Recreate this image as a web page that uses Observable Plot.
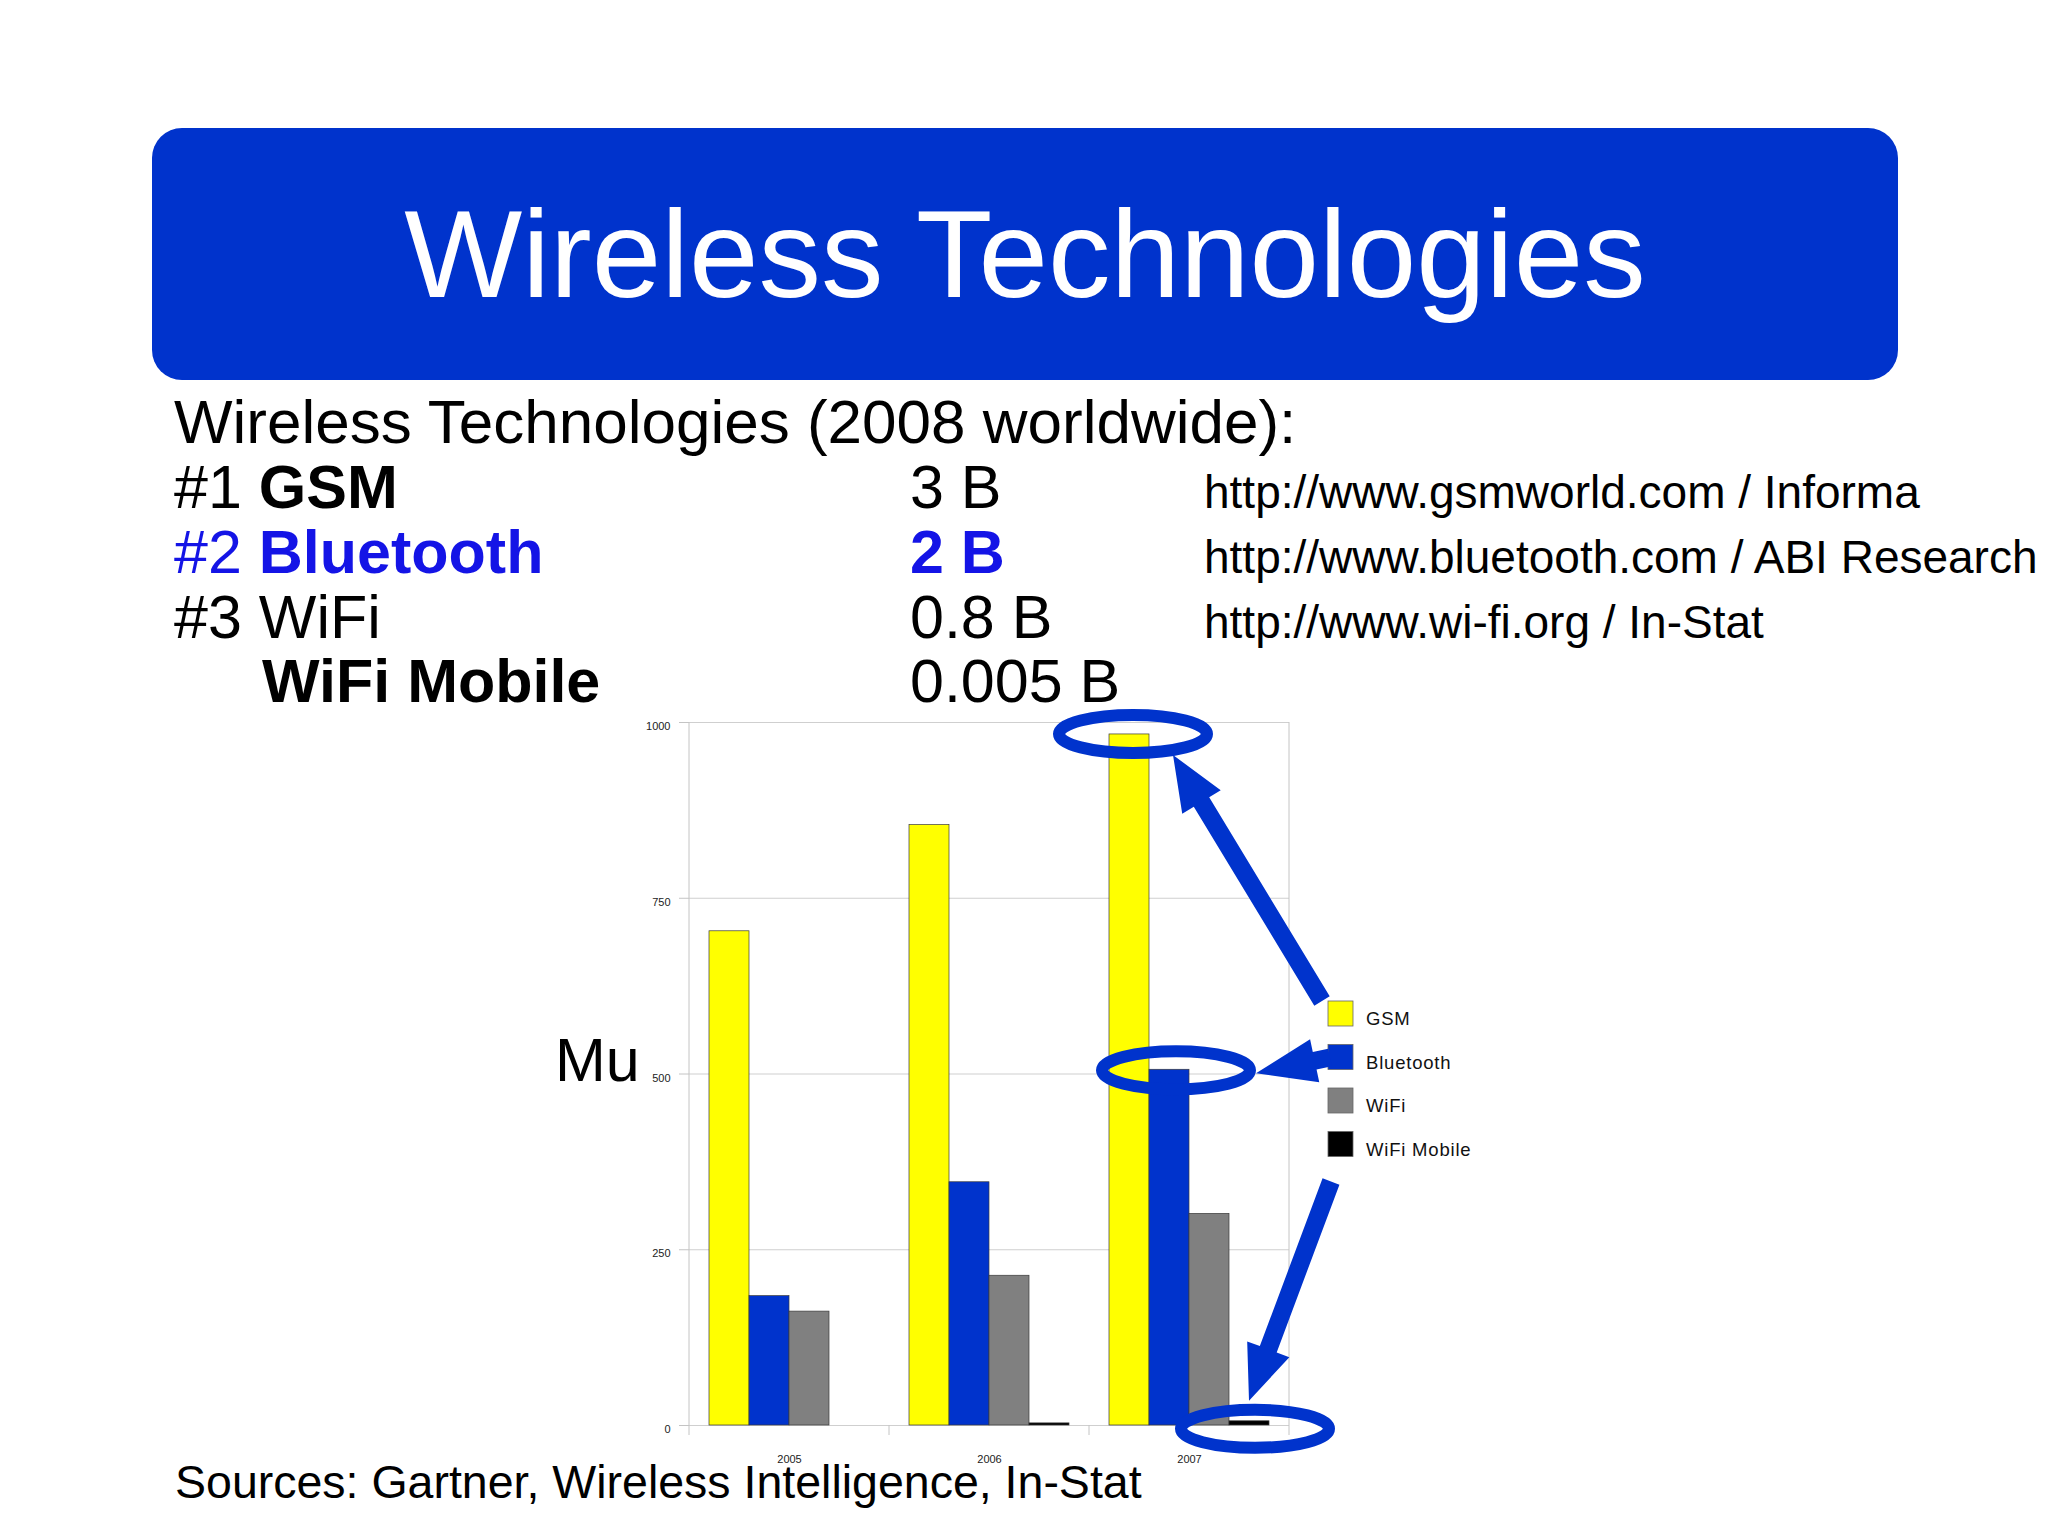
<!DOCTYPE html>
<html>
<head>
<meta charset="utf-8">
<script src="https://cdn.jsdelivr.net/npm/d3@7"></script>
<script src="https://cdn.jsdelivr.net/npm/@observablehq/plot@0.6"></script>
<style>
  html, body { margin: 0; padding: 0; background: #ffffff; }
  body { width: 2048px; height: 1535px; position: relative; overflow: hidden;
         font-family: "Liberation Sans", Arial, sans-serif; }
  svg.layer { position: absolute; left: 0; top: 0; }
  #chart { position: absolute; left: 600px; top: 700px; }
</style>
</head>
<body>
<div id="chart"></div>
<script>
// ---------- data ----------
const years = ["2005", "2006", "2007"];
const series = ["GSM", "Bluetooth", "WiFi", "WiFi Mobile"];
const gsm = [703, 854, 983];
const bluetooth = [184, 346, 506];
const wifi = [162, 213, 301];
const wifiMobile = [null, 3, 6];
const yTicks = [0, 250, 500, 750, 1000];
const colors = ["#ffff00", "#0033cc", "#808080", "#000000"];

// ---------- slide text ----------
const titleText = "Wireless Technologies";
const subtitleText = "Wireless Technologies (2008 worldwide):";
const ranks = ["#1 ", "#2 ", "#3 ", ""];
const techs = ["GSM", "Bluetooth", "WiFi", "WiFi Mobile"];
const techBold = [true, true, false, true];
const counts = ["3 B", "2 B", "0.8 B", "0.005 B"];
const countBold = [false, true, false, false];
const rowColors = ["#000000", "#1414e6", "#000000", "#000000"];
const urls = ["http://www.gsmworld.com / Informa",
              "http://www.bluetooth.com / ABI Research",
              "http://www.wi-fi.org / In-Stat"];
const sourcesText = "Sources: Gartner, Wireless Intelligence, In-Stat";
const axisStub = "Mu";

const FONT = "Liberation Sans, Arial, sans-serif";
const BLUE = "#0033cc";

// ---------- background slide layer ----------
const bg = d3.select("body").insert("svg", "#chart")
  .attr("class", "layer").attr("width", 2048).attr("height", 1535)
  .style("font-family", FONT);

bg.append("rect").attr("x", 152).attr("y", 128).attr("width", 1746).attr("height", 252)
  .attr("rx", 30).attr("fill", BLUE);
bg.append("text").attr("x", 1025).attr("y", 297).attr("text-anchor", "middle")
  .attr("font-size", 125).attr("fill", "#ffffff").text(titleText);

bg.append("text").attr("x", 174).attr("y", 443).attr("font-size", 62).attr("fill", "#000")
  .text(subtitleText);

const baselines = [508, 573, 638, 702];
techs.forEach((t, i) => {
  const row = bg.append("text").attr("y", baselines[i]).attr("font-size", 61)
    .attr("fill", rowColors[i]);
  if (ranks[i]) {
    row.attr("x", 174);
    row.append("tspan").text(ranks[i]);
    row.append("tspan").attr("font-weight", techBold[i] ? "bold" : "normal").text(t);
  } else {
    row.attr("x", 262).append("tspan").attr("font-weight", techBold[i] ? "bold" : "normal").text(t);
  }
  bg.append("text").attr("x", 910).attr("y", baselines[i]).attr("font-size", 61)
    .attr("fill", rowColors[i]).attr("font-weight", countBold[i] ? "bold" : "normal")
    .text(counts[i]);
});
urls.forEach((u, i) => {
  bg.append("text").attr("x", 1204).attr("y", baselines[i]).attr("font-size", 46)
    .attr("fill", "#000").text(u);
});
bg.append("text").attr("x", 555).attr("y", 1081).attr("font-size", 61).attr("fill", "#000")
  .text(axisStub);
bg.append("text").attr("x", 175).attr("y", 1498).attr("font-size", 46.5).attr("fill", "#000")
  .text(sourcesText);

// ---------- chart ----------
const seriesValues = [gsm, bluetooth, wifi, wifiMobile];
const data = years.flatMap((yr, i) =>
  series.map((s, j) => ({year: yr, series: s, value: seriesValues[j][i]})));

const chart = Plot.plot({
  width: 710, height: 780,
  marginLeft: 88, marginRight: 20, marginTop: 22, marginBottom: 55,
  style: {fontFamily: FONT, background: "transparent", overflow: "visible", color: "#222"},
  fx: {domain: years, padding: 0, label: null},
  x: {domain: series, paddingInner: 0, paddingOuter: 0.49, axis: null},
  y: {domain: [0, 1000], label: null},
  color: {domain: series, range: colors},
  marks: [
    Plot.gridY(yTicks, {stroke: "#cfcfcf", strokeOpacity: 1, strokeWidth: 1}),
    Plot.axisY(yTicks, {tickSize: 10, tickFormat: () => "", stroke: "#c4c4c4", strokeOpacity: 1, label: null}),
    Plot.axisY(yTicks, {tickSize: 0, tickPadding: 19, dy: 4, fontSize: 11, fill: "#222",
                        tickFormat: d => String(d), label: null}),
    Plot.axisFx({anchor: "bottom", tickSize: 0, tickPadding: 30, fontSize: 11, fill: "#222", label: null}),
    Plot.barY(data, {fx: "year", x: "series", y: "value", fill: "series",
                     stroke: "#3a3a3a", strokeWidth: 0.7, inset: 0})
  ]
});
document.getElementById("chart").appendChild(chart);

// ---------- overlay: frame, legend, annotations ----------
const OX = 600, OY = 700;
const fxS = chart.scale("fx");
const xS = chart.scale("x");
const yS = chart.scale("y");
const X = (yr, s) => OX + fxS.apply(yr) + (xS.apply(s) - xS.range[0]) + xS.bandwidth / 2;
const Y = v => OY + yS.apply(v);

const ov = d3.select("body").append("svg")
  .attr("class", "layer").attr("width", 2048).attr("height", 1535)
  .style("font-family", FONT);

// frame sides & category boundary ticks
const bounds = years.map(yr => OX + fxS.apply(yr)).concat([OX + fxS.apply(years[years.length - 1]) + fxS.bandwidth]);
bounds.forEach((bx, i) => {
  const edge = i === 0 || i === bounds.length - 1;
  ov.append("line").attr("x1", bx).attr("x2", bx)
    .attr("y1", edge ? Y(1000) : Y(0)).attr("y2", Y(0) + 10)
    .attr("stroke", "#c4c4c4").attr("stroke-width", 1);
});

// legend
const legendX = 1328, legendTop = 1001, rowStep = 43.5, sw = 25;
series.forEach((s, i) => {
  const top = legendTop + i * rowStep;
  ov.append("rect").attr("x", legendX).attr("y", top).attr("width", sw).attr("height", sw)
    .attr("fill", colors[i]).attr("stroke", "#666").attr("stroke-width", 0.8);
  ov.append("text").attr("x", legendX + 38).attr("y", top + 24).attr("font-size", 18.5)
    .attr("letter-spacing", "0.8px").attr("fill", "#111").text(s);
});

// ellipses
const last = years[years.length - 1];
const e1 = {cx: X(last, "GSM") + 4, cy: Y(gsm[2])};
const e2 = {cx: X(last, "Bluetooth") + 7, cy: Y(bluetooth[2]) + 1};
const e3 = {cx: X(last, "WiFi Mobile") + 6, cy: Y(wifiMobile[2]) + 8};
[e1, e2, e3].forEach(e => {
  ov.append("ellipse").attr("cx", e.cx).attr("cy", e.cy).attr("rx", 74).attr("ry", 19)
    .attr("fill", "none").attr("stroke", BLUE).attr("stroke-width", 12);
});

// arrows
function arrow(x1, y1, x2, y2, shaftW = 18, headL = 55, headW = 45) {
  const dx = x2 - x1, dy = y2 - y1, L = Math.hypot(dx, dy);
  const ux = dx / L, uy = dy / L, nx = -uy, ny = ux;
  const bx = x2 - ux * headL, by = y2 - uy * headL;
  const pts = [
    [x1 + nx * shaftW / 2, y1 + ny * shaftW / 2],
    [bx + nx * shaftW / 2, by + ny * shaftW / 2],
    [bx + nx * headW / 2, by + ny * headW / 2],
    [x2, y2],
    [bx - nx * headW / 2, by - ny * headW / 2],
    [bx - nx * shaftW / 2, by - ny * shaftW / 2],
    [x1 - nx * shaftW / 2, y1 - ny * shaftW / 2]
  ];
  ov.append("polygon").attr("points", pts.map(p => p.join(",")).join(" ")).attr("fill", BLUE);
}
arrow(legendX - 6, legendTop, e1.cx + 40, e1.cy + 21);
arrow(legendX + 2, legendTop + rowStep + 13, e2.cx + 80, e2.cy + 3, 18, 60, 44);
arrow(legendX + 3, legendTop + 3 * rowStep + 50, e3.cx - 6, e3.cy - 28);
</script>
</body>
</html>
